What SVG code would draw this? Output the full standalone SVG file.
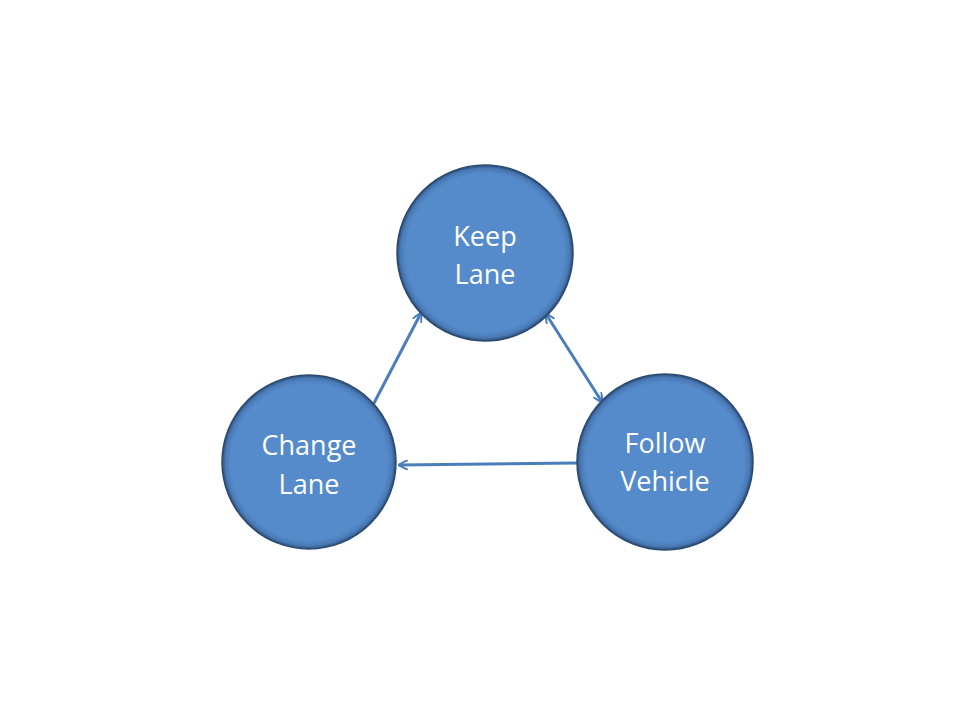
<svg xmlns="http://www.w3.org/2000/svg" width="960" height="720" viewBox="0 0 960 720">
<defs>
<radialGradient id="bevel" cx="0.5" cy="0.5" r="0.5">
<stop offset="0.9" stop-color="#558ACB"/>
<stop offset="0.96" stop-color="#4A7AB6"/>
<stop offset="1" stop-color="#2B4E78"/>
</radialGradient>
<marker id="ah" viewBox="0 0 10 10" refX="9" refY="5" markerWidth="10" markerHeight="10" markerUnits="userSpaceOnUse" orient="auto-start-reverse">
<path d="M0,0 L10,5 L0,10" fill="none" stroke="#4A7EBB" stroke-width="2"/>
</marker>
<style>
.node{fill:url(#bevel);stroke:#2A4A70;stroke-width:1.5}
.lbl{font-family:"Open Sans","Noto Sans",sans-serif;font-size:27px;fill:#FFFFFF;text-anchor:middle}
.edge{stroke:#4A7EBB;stroke-width:3;fill:none}
</style>
</defs>
<rect width="960" height="720" fill="#FFFFFF"/>
<g id="connectors">
<line class="edge" x1="373" y1="405" x2="421" y2="313" marker-end="url(#ah)"/>
<line class="edge" x1="546" y1="314" x2="602" y2="402" marker-start="url(#ah)" marker-end="url(#ah)"/>
<line class="edge" x1="577" y1="463" x2="399" y2="465" marker-end="url(#ah)"/>
</g>
<g id="keep-lane">
<circle class="node" cx="485" cy="253" r="88"/>
<text class="lbl" x="485" y="246">Keep</text>
<text class="lbl" x="485" y="284">Lane</text>
</g>
<g id="change-lane">
<circle class="node" cx="309" cy="462" r="87"/>
<text class="lbl" x="309" y="455">Change</text>
<text class="lbl" x="309" y="494">Lane</text>
</g>
<g id="follow-vehicle">
<circle class="node" cx="665" cy="462" r="88"/>
<text class="lbl" x="665" y="453">Follow</text>
<text class="lbl" x="665" y="491">Vehicle</text>
</g>
</svg>
